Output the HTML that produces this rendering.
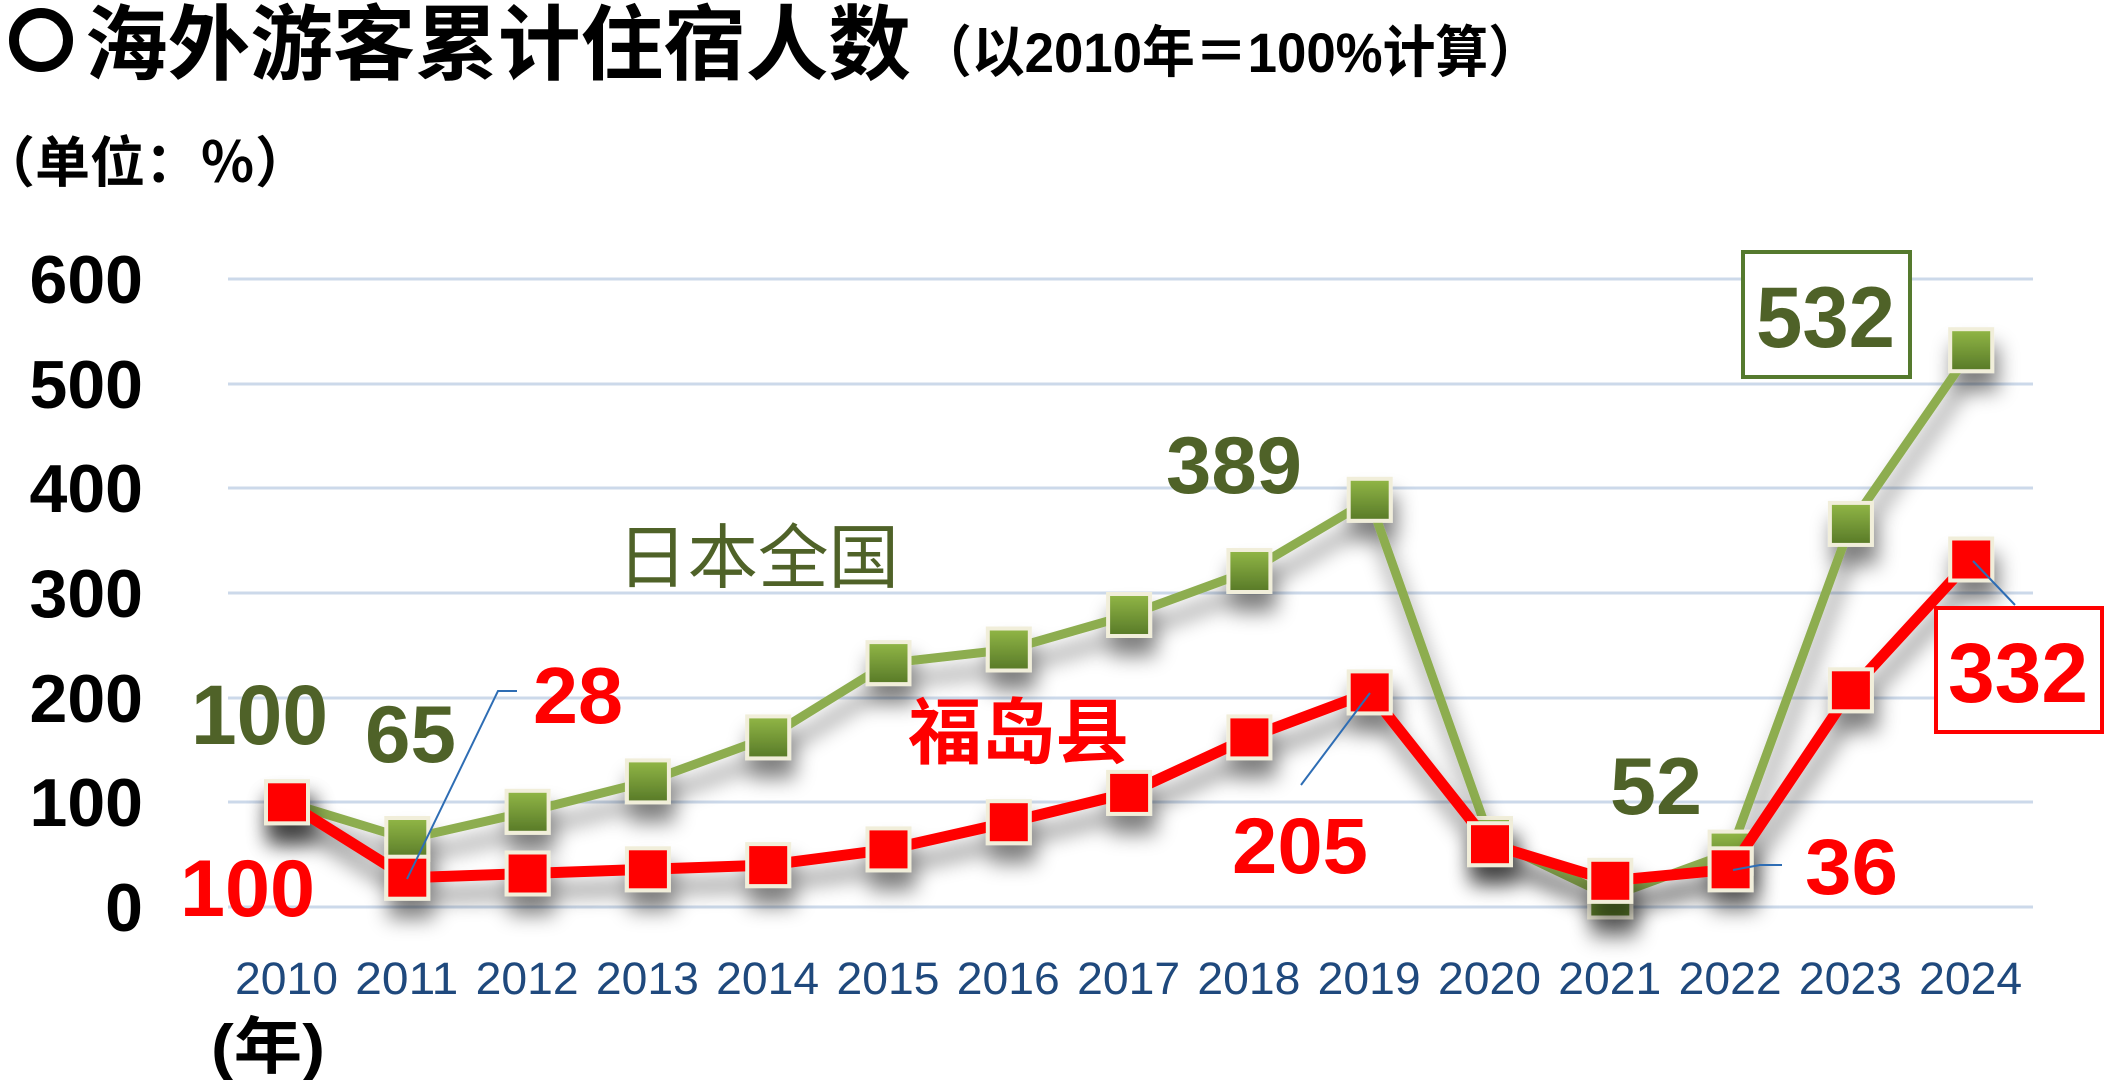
<!DOCTYPE html>
<html><head><meta charset="utf-8"><style>
html,body{margin:0;padding:0;background:#fff;}
svg{display:block;}
</style></head><body>
<svg width="2104" height="1080" viewBox="0 0 2104 1080" xmlns="http://www.w3.org/2000/svg">
<defs>
<linearGradient id="gg" x1="0" y1="0" x2="0" y2="1">
<stop offset="0" stop-color="#8FB445"/><stop offset="1" stop-color="#5A7C29"/>
</linearGradient>
<filter id="sh" x="-10%" y="-20%" width="120%" height="170%">
<feGaussianBlur in="SourceAlpha" stdDeviation="10"/>
<feOffset dx="4" dy="18" result="o"/>
<feComponentTransfer><feFuncA type="linear" slope="0.5"/></feComponentTransfer>
<feMerge><feMergeNode/><feMergeNode in="SourceGraphic"/></feMerge>
</filter>
</defs>

<!-- title -->
<circle cx="41" cy="40" r="27" fill="none" stroke="#000" stroke-width="10"/>
<text x="85" y="73" font-family="'Liberation Sans','Noto Sans CJK SC',sans-serif" font-size="82" font-weight="700" textLength="826" lengthAdjust="spacingAndGlyphs">海外游客累计住宿人数</text>
<text x="919" y="72" font-family="'Liberation Sans','Noto Sans CJK SC',sans-serif" font-size="56" font-weight="700" textLength="622" lengthAdjust="spacingAndGlyphs">（以2010年＝100%计算）</text>
<text x="-20" y="182" font-family="'Noto Sans CJK SC',sans-serif" font-size="55" font-weight="700" textLength="330" lengthAdjust="spacingAndGlyphs">（单位：％）</text>

<!-- gridlines -->
<g stroke="#CCD9EA" stroke-width="3">
<line x1="228" y1="279" x2="2033" y2="279"/>
<line x1="228" y1="384" x2="2033" y2="384"/>
<line x1="228" y1="488" x2="2033" y2="488"/>
<line x1="228" y1="593" x2="2033" y2="593"/>
<line x1="228" y1="698" x2="2033" y2="698"/>
<line x1="228" y1="802" x2="2033" y2="802"/>
<line x1="228" y1="907" x2="2033" y2="907"/>
</g>

<!-- y labels -->
<g font-family="'Liberation Sans',sans-serif" font-size="68" font-weight="700" fill="#000" text-anchor="end">
<text x="143" y="303">600</text>
<text x="143" y="408">500</text>
<text x="143" y="512">400</text>
<text x="143" y="617">300</text>
<text x="143" y="722">200</text>
<text x="143" y="826">100</text>
<text x="143" y="931">0</text>
</g>

<!-- x labels -->
<g font-family="'Liberation Sans',sans-serif" font-size="45" fill="#1F497D">
<text x="235" y="994" textLength="103" lengthAdjust="spacingAndGlyphs">2010</text>
<text x="355.3" y="994" textLength="103" lengthAdjust="spacingAndGlyphs">2011</text>
<text x="475.6" y="994" textLength="103" lengthAdjust="spacingAndGlyphs">2012</text>
<text x="595.9" y="994" textLength="103" lengthAdjust="spacingAndGlyphs">2013</text>
<text x="716.2" y="994" textLength="103" lengthAdjust="spacingAndGlyphs">2014</text>
<text x="836.5" y="994" textLength="103" lengthAdjust="spacingAndGlyphs">2015</text>
<text x="956.8" y="994" textLength="103" lengthAdjust="spacingAndGlyphs">2016</text>
<text x="1077.1" y="994" textLength="103" lengthAdjust="spacingAndGlyphs">2017</text>
<text x="1197.4" y="994" textLength="103" lengthAdjust="spacingAndGlyphs">2018</text>
<text x="1317.7" y="994" textLength="103" lengthAdjust="spacingAndGlyphs">2019</text>
<text x="1438" y="994" textLength="103" lengthAdjust="spacingAndGlyphs">2020</text>
<text x="1558.3" y="994" textLength="103" lengthAdjust="spacingAndGlyphs">2021</text>
<text x="1678.6" y="994" textLength="103" lengthAdjust="spacingAndGlyphs">2022</text>
<text x="1798.9" y="994" textLength="103" lengthAdjust="spacingAndGlyphs">2023</text>
<text x="1919.2" y="994" textLength="103" lengthAdjust="spacingAndGlyphs">2024</text>
</g>
<text x="211" y="1068" font-family="'Liberation Sans','Noto Sans CJK SC',sans-serif" font-size="62" font-weight="700" textLength="114" lengthAdjust="spacingAndGlyphs">(年)</text>

<!-- green series -->
<g filter="url(#sh)">
<polyline fill="none" stroke="#8DAD4F" stroke-width="9" stroke-linejoin="round"
points="287,802.3 407.3,839 527.6,811.8 647.9,781.4 768.2,737.4 888.5,663.1 1008.8,649.5 1129.1,615 1249.4,571 1369.7,499.8 1490,839 1610.3,896.5 1730.6,852.6 1850.9,523.9 1971.2,350.2"/>
<g fill="#F1EEDA">
<rect x="264" y="779.3" width="46" height="46"/>
<rect x="384.3" y="816" width="46" height="46"/>
<rect x="504.6" y="788.8" width="46" height="46"/>
<rect x="624.9" y="758.4" width="46" height="46"/>
<rect x="745.2" y="714.4" width="46" height="46"/>
<rect x="865.5" y="640.1" width="46" height="46"/>
<rect x="985.8" y="626.5" width="46" height="46"/>
<rect x="1106.1" y="592" width="46" height="46"/>
<rect x="1226.4" y="548" width="46" height="46"/>
<rect x="1346.7" y="476.8" width="46" height="46"/>
<rect x="1467" y="816" width="46" height="46"/>
<rect x="1587.3" y="873.5" width="46" height="46"/>
<rect x="1707.6" y="829.6" width="46" height="46"/>
<rect x="1827.9" y="500.9" width="46" height="46"/>
<rect x="1948.2" y="327.2" width="46" height="46"/>
</g>
<g fill="url(#gg)">
<rect x="268" y="783.3" width="38" height="38"/>
<rect x="388.3" y="820" width="38" height="38"/>
<rect x="508.6" y="792.8" width="38" height="38"/>
<rect x="628.9" y="762.4" width="38" height="38"/>
<rect x="749.2" y="718.4" width="38" height="38"/>
<rect x="869.5" y="644.1" width="38" height="38"/>
<rect x="989.8" y="630.5" width="38" height="38"/>
<rect x="1110.1" y="596" width="38" height="38"/>
<rect x="1230.4" y="552" width="38" height="38"/>
<rect x="1350.7" y="480.8" width="38" height="38"/>
<rect x="1471" y="820" width="38" height="38"/>
<rect x="1591.3" y="877.5" width="38" height="38"/>
<rect x="1711.6" y="833.6" width="38" height="38"/>
<rect x="1831.9" y="504.9" width="38" height="38"/>
<rect x="1952.2" y="331.2" width="38" height="38"/>
</g>
</g>

<!-- red series -->
<g filter="url(#sh)">
<polyline fill="none" stroke="#FF0000" stroke-width="11" stroke-linejoin="round"
points="287,802.3 407.3,877.7 527.6,873.5 647.9,869.3 768.2,865.1 888.5,849.4 1008.8,822.2 1129.1,792.9 1249.4,737.4 1369.7,692.4 1490,844.2 1610.3,880.8 1730.6,869.3 1850.9,690.3 1971.2,559.5"/>
<g fill="#F1EEDA">
<rect x="264" y="779.3" width="46" height="46"/>
<rect x="384.3" y="854.7" width="46" height="46"/>
<rect x="504.6" y="850.5" width="46" height="46"/>
<rect x="624.9" y="846.3" width="46" height="46"/>
<rect x="745.2" y="842.1" width="46" height="46"/>
<rect x="865.5" y="826.4" width="46" height="46"/>
<rect x="985.8" y="799.2" width="46" height="46"/>
<rect x="1106.1" y="769.9" width="46" height="46"/>
<rect x="1226.4" y="714.4" width="46" height="46"/>
<rect x="1346.7" y="669.4" width="46" height="46"/>
<rect x="1467" y="821.2" width="46" height="46"/>
<rect x="1587.3" y="857.8" width="46" height="46"/>
<rect x="1707.6" y="846.3" width="46" height="46"/>
<rect x="1827.9" y="667.3" width="46" height="46"/>
<rect x="1948.2" y="536.5" width="46" height="46"/>
</g>
<g fill="#FF0000">
<rect x="268" y="783.3" width="38" height="38"/>
<rect x="388.3" y="858.7" width="38" height="38"/>
<rect x="508.6" y="854.5" width="38" height="38"/>
<rect x="628.9" y="850.3" width="38" height="38"/>
<rect x="749.2" y="846.1" width="38" height="38"/>
<rect x="869.5" y="830.4" width="38" height="38"/>
<rect x="989.8" y="803.2" width="38" height="38"/>
<rect x="1110.1" y="773.9" width="38" height="38"/>
<rect x="1230.4" y="718.4" width="38" height="38"/>
<rect x="1350.7" y="673.4" width="38" height="38"/>
<rect x="1471" y="825.2" width="38" height="38"/>
<rect x="1591.3" y="861.8" width="38" height="38"/>
<rect x="1711.6" y="850.3" width="38" height="38"/>
<rect x="1831.9" y="671.3" width="38" height="38"/>
<rect x="1952.2" y="540.5" width="38" height="38"/>
</g>
</g>

<!-- leader lines -->
<g fill="none" stroke="#2E6DB4" stroke-width="2">
<polyline points="407,879 498,691 517,691"/>
<polyline points="1301,785 1370,693"/>
<polyline points="1733,870 1760,865 1782,865"/>
<polyline points="1973,561 2015,605"/>
</g>

<!-- boxes -->
<rect x="1743" y="252" width="167" height="125" fill="#fff" stroke="#557A2E" stroke-width="4"/>
<rect x="1936" y="608" width="166" height="124" fill="#fff" stroke="#FF0000" stroke-width="4"/>

<!-- series names -->
<text x="617" y="582" font-family="'Liberation Sans','Noto Sans CJK SC',sans-serif" font-size="70" fill="#4F6228" textLength="282" lengthAdjust="spacingAndGlyphs">日本全国</text>
<text x="908" y="758" font-family="'Liberation Sans','Noto Sans CJK SC',sans-serif" font-size="72" font-weight="700" fill="#FF0000" textLength="221" lengthAdjust="spacingAndGlyphs">福岛县</text>

<!-- value labels -->
<g font-family="'Liberation Sans',sans-serif" font-weight="700">
<text x="191" y="744" font-size="84" fill="#4F6228" textLength="137" lengthAdjust="spacingAndGlyphs">100</text>
<text x="365" y="762" font-size="81" fill="#4F6228" textLength="91" lengthAdjust="spacingAndGlyphs">65</text>
<text x="533" y="723" font-size="80" fill="#FF0000" textLength="90" lengthAdjust="spacingAndGlyphs">28</text>
<text x="180" y="916" font-size="81" fill="#FF0000" textLength="135" lengthAdjust="spacingAndGlyphs">100</text>
<text x="1166" y="493" font-size="81" fill="#4F6228" textLength="136" lengthAdjust="spacingAndGlyphs">389</text>
<text x="1232" y="873" font-size="79" fill="#FF0000" textLength="136" lengthAdjust="spacingAndGlyphs">205</text>
<text x="1610" y="814" font-size="81" fill="#4F6228" textLength="92" lengthAdjust="spacingAndGlyphs">52</text>
<text x="1805" y="894" font-size="79" fill="#FF0000" textLength="93" lengthAdjust="spacingAndGlyphs">36</text>
<text x="1756" y="347" font-size="86" fill="#4F6228" textLength="139" lengthAdjust="spacingAndGlyphs">532</text>
<text x="1948" y="702" font-size="84" fill="#FF0000" textLength="140" lengthAdjust="spacingAndGlyphs">332</text>
</g>
</svg>
</body></html>
